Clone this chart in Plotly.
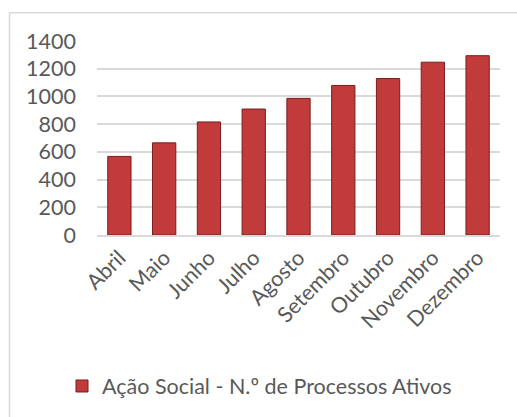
import plotly.graph_objects as go

months = ["Abril", "Maio", "Junho", "Julho", "Agosto", "Setembro", "Outubro", "Novembro", "Dezembro"]
values = [567, 665, 816, 909, 986, 1079, 1129, 1247, 1294]
series_name = "Ação Social - N.º de Processos Ativos"
y_ticks = [0, 200, 400, 600, 800, 1000, 1200, 1400]

W, H = 517, 417
L, R, T, B = 97, 17, 41, 181
pw, ph = W - L - R, H - T - B

def px_x(p):
    return (p - L) / pw

def px_y(p):
    return (H - B - p) / ph

font = "Lato, 'Open Sans', sans-serif"
txt = "#595959"

fig = go.Figure()
fig.add_trace(go.Bar(
    x=months, y=values, name=series_name,
    marker=dict(color="#C23B3B", line=dict(color="#7A1C1C", width=1)),
    width=0.52,
))

fig.update_layout(
    width=W, height=H,
    margin=dict(l=L, r=R, t=T, b=B),
    paper_bgcolor="white", plot_bgcolor="white",
    font=dict(family=font, color=txt, size=21),
    showlegend=True,
    legend=dict(orientation="h", x=px_x(62), xanchor="left", y=px_y(386), yanchor="middle",
                font=dict(size=21.5, color=txt), itemwidth=30, bgcolor="rgba(0,0,0,0)"),
    xaxis=dict(tickangle=-45, showgrid=False, showline=True, linecolor="#D9D9D9", linewidth=1.5,
               ticks="", tickfont=dict(size=21.5, color=txt)),
    yaxis=dict(range=[0, 1400], tickvals=y_ticks, showgrid=True, gridcolor="#D9D9D9", gridwidth=1.5,
               zeroline=False, showline=False, ticks="", tickfont=dict(size=21.5, color=txt),
               ticklabelstandoff=20),
    shapes=[dict(type="rect", xref="paper", yref="paper",
                 x0=px_x(9.5), x1=px_x(530), y0=px_y(430), y1=px_y(12.5),
                 line=dict(color="#D9D9D9", width=1.5), layer="below")],
)

fig.write_html("out.html")
